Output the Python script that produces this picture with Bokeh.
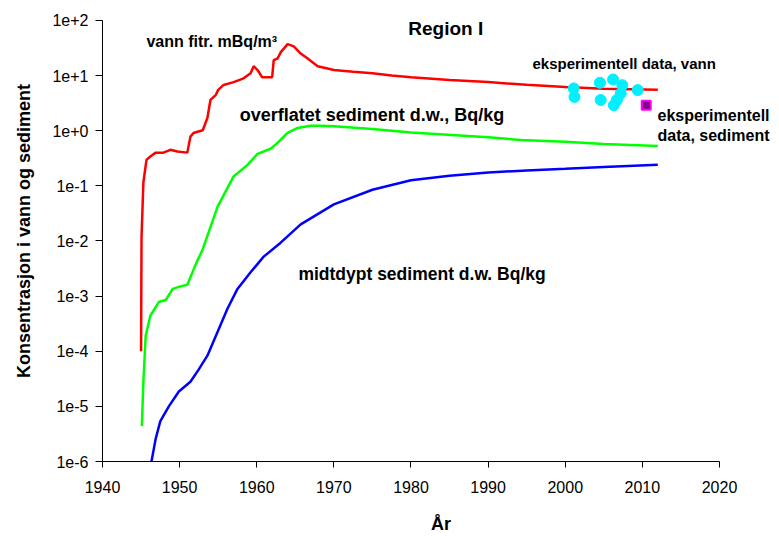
from bokeh.plotting import figure
from bokeh.models import Label, FixedTicker, CustomJSTickFormatter
from bokeh.embed import file_html
from bokeh.resources import INLINE

# ---- data ----
water_years = [1945.0, 1945.06, 1945.3, 1945.7, 1946.2, 1946.9, 1947.9, 1948.8, 1949.7, 1951.0,
               1951.4, 1951.8, 1953.0, 1953.6, 1954.0, 1954.7, 1955.0, 1955.7, 1957.0, 1958.3,
               1959.2, 1959.6, 1960.1, 1960.7, 1962.0, 1962.2, 1962.7, 1963.1, 1964.0, 1964.8,
               1965.7, 1966.6, 1967.9, 1970.0, 1972.5, 1975.0, 1977.5, 1980.0, 1985.0, 1990.0,
               1995.0, 2000.0, 2005.0, 2012.0]
water_vals = [1.0e-4, 0.0117, 0.115, 0.295, 0.34, 0.40, 0.40, 0.45, 0.42, 0.40,
              0.78, 0.91, 1.02, 1.70, 3.63, 4.47, 5.50, 6.76, 7.59, 8.91,
              11.0, 14.8, 12.6, 9.33, 9.33, 19.1, 20.4, 26.3, 37.2, 33.9,
              25.1, 20.4, 14.8, 12.6, 11.7, 11.0, 10.0, 9.33, 8.3, 7.6,
              6.8, 6.2, 5.75, 5.5]

surf_years = [1945.1, 1945.3, 1945.6, 1946.2, 1947.3, 1948.2, 1949.1, 1950.1, 1951.0, 1951.4,
              1952.1, 1953.0, 1954.0, 1954.9, 1955.9, 1957.0, 1958.8, 1960.1, 1961.8, 1962.7,
              1964.0, 1965.3, 1967.0, 1968.3, 1970.0, 1975.0, 1980.0, 1990.0, 1994.2, 2000.0,
              2005.0, 2012.0]
surf_vals = [4.4e-6, 2.8e-5, 1.9e-4, 4.4e-4, 7.8e-4, 8.5e-4, 1.35e-3, 1.5e-3, 1.6e-3, 2.2e-3,
             3.8e-3, 7.1e-3, 0.0178, 0.041, 0.076, 0.148, 0.24, 0.38, 0.47, 0.60,
             0.91, 1.12, 1.23, 1.23, 1.20, 1.07, 0.93, 0.76, 0.68, 0.63,
             0.575, 0.53]

mid_years = [1946.35, 1946.9, 1947.5, 1948.6, 1949.9, 1951.4, 1952.4, 1953.6, 1954.9, 1956.2,
             1957.5, 1959.2, 1960.9, 1963.1, 1965.7, 1970.0, 1975.0, 1980.0, 1985.0, 1990.0,
             1995.0, 2000.0, 2005.0, 2012.0]
mid_vals = [1.0e-6, 2.6e-6, 5.4e-6, 1.0e-5, 1.86e-5, 2.8e-5, 4.5e-5, 8.3e-5, 2.2e-4, 5.9e-4,
            1.35e-3, 2.7e-3, 5.2e-3, 9.3e-3, 0.020, 0.046, 0.085, 0.126, 0.152, 0.174,
            0.19, 0.204, 0.22, 0.24]

exp_water_years = [2001.1, 2001.2, 2004.5, 2004.6, 2006.2, 2007.4, 2007.2, 2006.7, 2006.3, 2009.4]
exp_water_vals = [5.85, 4.1, 7.4, 3.6, 8.5, 6.7, 4.75, 3.6, 2.9, 5.45]

exp_sed_years = [2010.5]
exp_sed_vals = [2.9]

x_ticks = [1940, 1950, 1960, 1970, 1980, 1990, 2000, 2010, 2020]
y_ticks = [1e-6, 1e-5, 1e-4, 1e-3, 1e-2, 1e-1, 1e0, 1e1, 1e2]

FONT = "Liberation Sans"

# frame spans the canvas to the right/top so that the annotations there are not clipped;
# the visible axes are limited to 1940-2020 and 1e-6..1e+2 with axis bounds
p = figure(width=779, height=536, x_range=(1940, 2027.78), y_range=(1e-6, 229.7),
           y_axis_type="log", output_backend="svg", toolbar_location=None,
           min_border_left=102, min_border_right=0, min_border_top=0, min_border_bottom=73)
p.outline_line_color = None
p.xgrid.visible = False
p.ygrid.visible = False
p.background_fill_color = "white"
p.border_fill_color = "white"

p.line(water_years, water_vals, line_color="#FF0000", line_width=2.5)
p.line(surf_years, surf_vals, line_color="#00FF00", line_width=2.5)
p.line(mid_years, mid_vals, line_color="#0000FF", line_width=2.5)
p.scatter(exp_water_years, exp_water_vals, marker="circle", size=11,
          fill_color="#00F0FF", line_color="#00F0FF")
p.scatter(exp_sed_years, exp_sed_vals, marker="square", size=9,
          fill_color="#800080", line_color="#FF00FF", line_width=2)

# axes
p.xaxis.ticker = FixedTicker(ticks=x_ticks, minor_ticks=[])
p.yaxis.ticker = FixedTicker(ticks=y_ticks, minor_ticks=[])
p.xaxis.bounds = (1940, 2020)
p.yaxis.bounds = (1e-6, 1e2)
p.yaxis.formatter = CustomJSTickFormatter(code="""
const e = Math.round(Math.log10(tick));
return '1e' + (e >= 0 ? '+' : '') + e;
""")
for ax in (p.xaxis[0], p.yaxis[0]):
    ax.axis_line_color = "black"
    ax.axis_line_width = 1
    ax.major_tick_line_color = "black"
    ax.major_tick_in = 0
    ax.minor_tick_in = 0
    ax.minor_tick_out = 0
    ax.major_label_text_font = FONT
    ax.major_label_text_font_size = "16px"
    ax.major_label_text_color = "black"
    ax.axis_label_text_font = FONT
    ax.axis_label_text_font_style = "bold"
    ax.axis_label_text_font_size = "18px"
    ax.axis_label_text_color = "black"
p.yaxis.major_tick_out = 7
p.xaxis.major_tick_out = 6
p.yaxis.major_label_standoff = 7
p.xaxis.major_label_standoff = 13
p.yaxis.axis_label = "Konsentrasjon i vann og sediment"
p.xaxis.axis_label = "År"
p.yaxis.axis_label_standoff = 15
p.xaxis.axis_label_standoff = 18


def lab(x, y, text, size="15px", align="left"):
    p.add_layout(Label(x=x, y=y, text=text, text_font=FONT, text_font_style="bold",
                       text_font_size=size, text_align=align, text_baseline="alphabetic",
                       text_color="black"))


lab(1984.5, 71.8, "Region I", size="19px", align="center")
lab(1945.7, 41.8, "vann fitr. mBq/m³", size="16px")
lab(1957.8, 1.93, "overflatet sediment d.w., Bq/kg", size="18px")
lab(1995.75, 16.75, "eksperimentell data, vann", size="15px")
lab(2011.96, 1.85, "eksperimentell", size="16px")
lab(2011.96, 0.805, "data, sediment", size="16px")
lab(1965.4, 2.49e-3, "midtdypt sediment d.w. Bq/kg", size="17.5px")

open("out.html", "w").write(file_html(p, INLINE))
